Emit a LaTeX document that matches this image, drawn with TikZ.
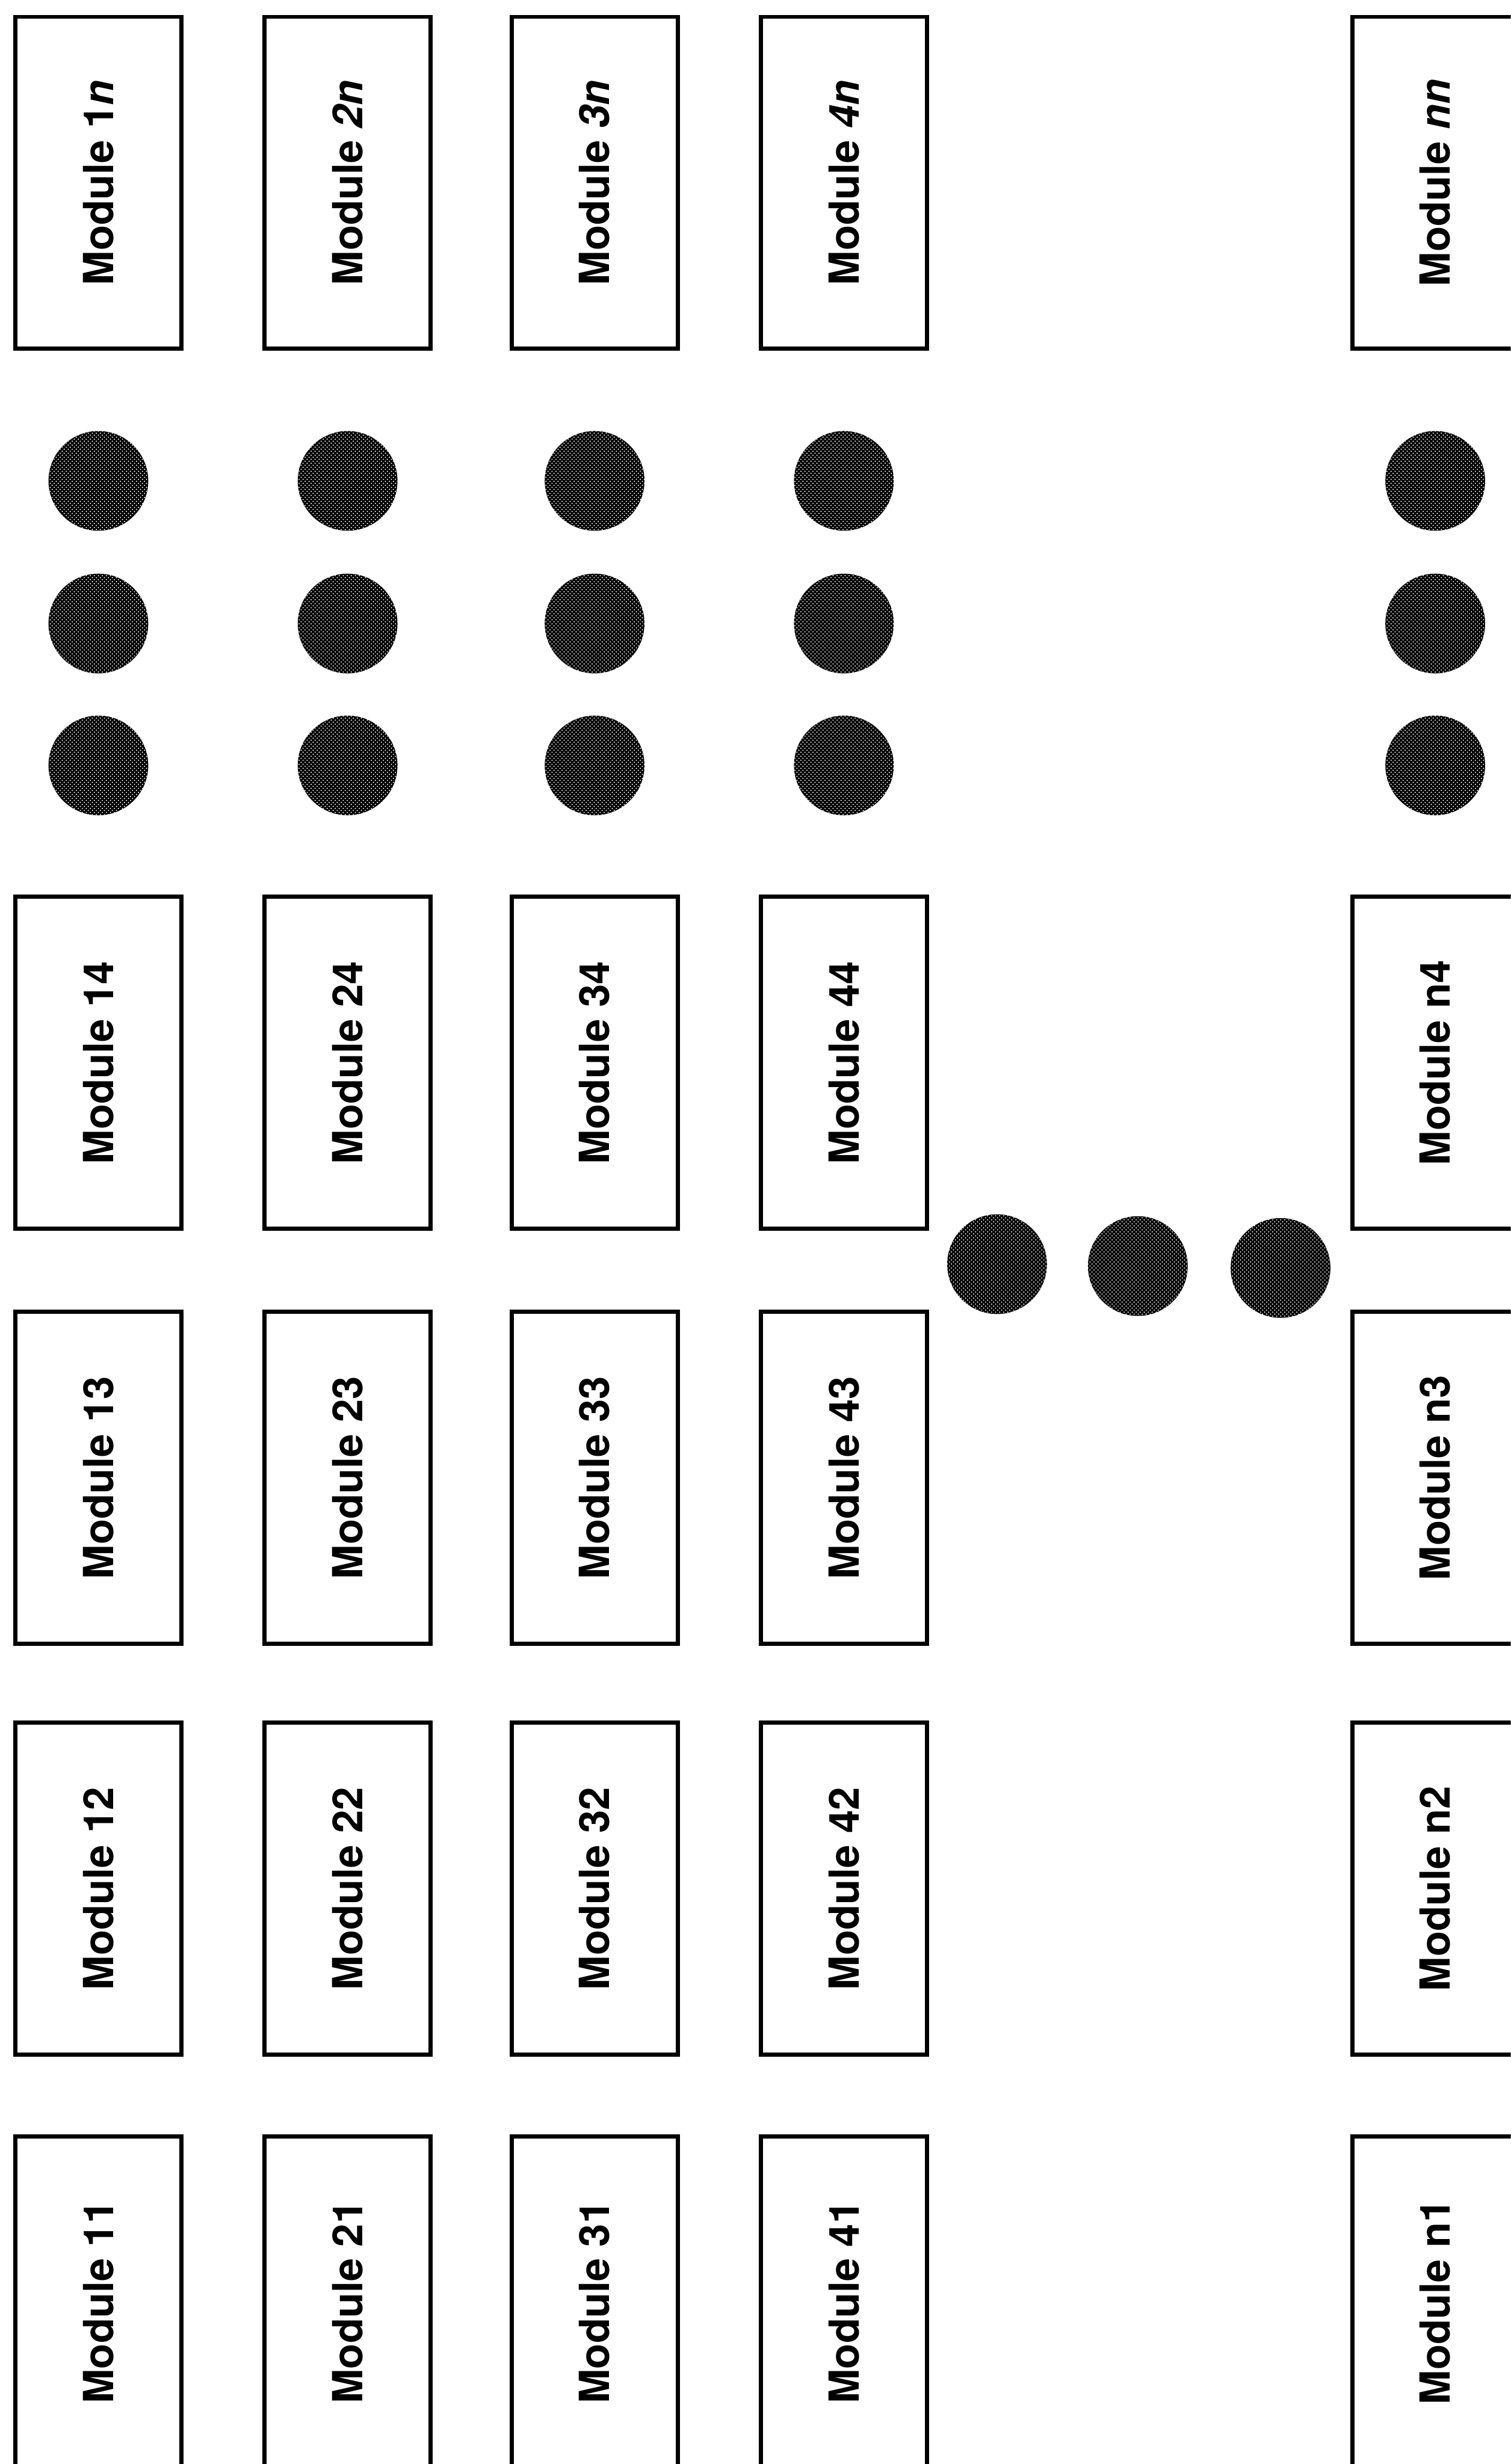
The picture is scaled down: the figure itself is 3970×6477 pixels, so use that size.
\documentclass[tikz,border=0pt]{standalone}
\usepackage{fontspec}
\setmainfont{TeX Gyre Heros}
\usetikzlibrary{patterns}
\begin{document}
\begin{tikzpicture}[x=0.01cm,y=-0.01cm,
  modbox/.style={draw=black, line width=3.1pt, rotate=90, minimum width=8.72cm,
    minimum height=4.36cm, inner sep=0pt, anchor=center,
    font=\fontsize{31}{36}\selectfont\bfseries},
  dotc/.style={circle, minimum size=2.62cm, inner sep=0pt,
    preaction={fill=black}, pattern=crosshatch dots, pattern color=white}]
\useasboundingbox (0,0) rectangle (3970,6477);
\clip (0,0) rectangle (3970,6477);
\foreach \c/\cx/\top in {1/258.5/1\textit{n},2/913.5/\textit{2n},3/1562.5/\textit{3n},4/2217.5/\textit{4n},n/3771.5/\textit{nn}}{
  \foreach \r/\ry in {1/6051.5,2/4964.5,3/3884.5,4/2793.5}{
    \node[modbox] (m\c\r) at (\cx,\ry) {Module \c\r};
  }
  \node[modbox] (m\c n) at (\cx,480.5) {Module \top};
  \node[dotc] (d\c a) at (\cx,1264) {};
  \node[dotc] (d\c b) at (\cx,1639) {};
  \node[dotc] (d\c c) at (\cx,2012) {};
}
\node[dotc] (h1) at (2620,3323) {};
\node[dotc] (h2) at (2990,3328) {};
\node[dotc] (h3) at (3365,3333) {};
\end{tikzpicture}
\end{document}
